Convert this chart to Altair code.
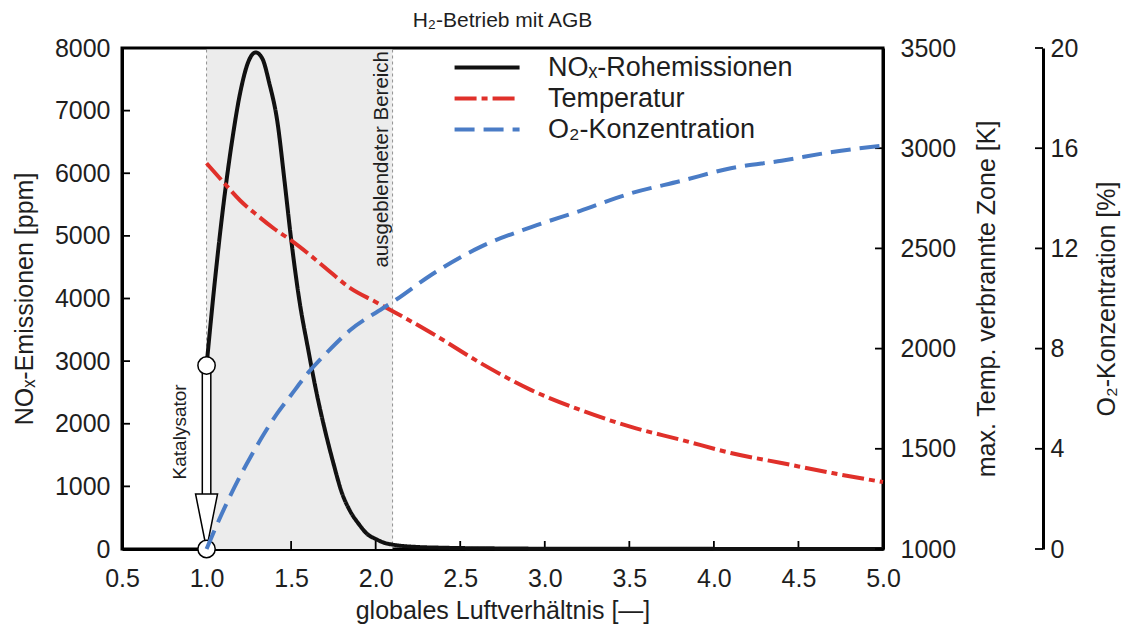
import altair as alt
import pandas as pd

# ---------------- data ----------------
lam_nox = [1.0, 1.05, 1.1, 1.15, 1.2, 1.25, 1.29, 1.33, 1.37, 1.42, 1.46, 1.5,
           1.55, 1.6, 1.65, 1.7, 1.75, 1.8, 1.85, 1.9, 1.95, 2.0, 2.05, 2.1,
           2.2, 2.4, 2.7, 3.0, 4.0, 5.0]
nox = [2930, 4300, 5500, 6500, 7300, 7800, 7930, 7830, 7450, 6800, 5900, 4950,
       3950, 3200, 2500, 1900, 1370, 900, 600, 400, 240, 160, 100, 70,
       40, 20, 10, 5, 2, 0]

lam_temp = [1.0, 1.1, 1.2, 1.3, 1.4, 1.5, 1.6, 1.7, 1.85, 2.0, 2.12, 2.33,
            2.62, 2.92, 3.21, 3.51, 3.81, 4.1, 4.4, 4.7, 5.0]
temp = [2925, 2830, 2738, 2665, 2598, 2540, 2475, 2405, 2302, 2233, 2178, 2078,
        1928, 1793, 1694, 1609, 1544, 1479, 1429, 1379, 1334]

lam_o2 = [1.0, 1.06, 1.12, 1.19, 1.26, 1.34, 1.42, 1.5, 1.6, 1.72, 1.85, 2.04,
          2.12, 2.33, 2.62, 2.92, 3.21, 3.51, 3.81, 4.1, 4.4, 4.7, 5.0]
o2 = [0.0, 0.95, 1.84, 2.8, 3.67, 4.6, 5.43, 6.15, 7.03, 7.9, 8.74, 9.6,
      9.95, 10.95, 12.06, 12.85, 13.5, 14.2, 14.7, 15.2, 15.5, 15.85, 16.1]

series_names = ["NOₓ-Rohemissionen", "Temperatur", "O₂-Konzentration"]
series_colors = ["#111111", "#e0302a", "#4a7cc6"]
series_dashes = [[1, 0], [22, 5, 6, 5], [20, 9]]

x_ticks = [0.5, 1.0, 1.5, 2.0, 2.5, 3.0, 3.5, 4.0, 4.5, 5.0]
nox_ticks = [0, 1000, 2000, 3000, 4000, 5000, 6000, 7000, 8000]
temp_ticks = [1000, 1500, 2000, 2500, 3000, 3500]
o2_ticks = [0, 4, 8, 12, 16, 20]

hidden_range = [1.0, 2.1]          # "ausgeblendeter Bereich"
cat_lam = [1.0, 1.0]               # Katalysator arrow: start / end
cat_nox = [2930, 0]
cat_shaft_end = 700
annot_lam = [2.1, 1.0]
annot_nox = [8000, 1870]
annot_text = ["ausgeblendeter Bereich", "Katalysator"]

# ---------------- style ----------------
W, H = 761, 501
O2_OFFSET = 160
FONT = "Liberation Sans"
TXT = "#1e1e1e"
TICK = 8
FS = 25

df_nox = pd.DataFrame({"lam": lam_nox, "value": nox, "series": series_names[0]})
df_temp = pd.DataFrame({"lam": lam_temp, "value": temp, "series": series_names[1]})
df_o2 = pd.DataFrame({"lam": lam_o2, "value": o2, "series": series_names[2]})

xscale = alt.Scale(domain=[0.5, 5.0], nice=False, zero=False)
color_enc = alt.Color("series:N", scale=alt.Scale(domain=series_names, range=series_colors), legend=alt.Legend(title=None))
dash_enc = alt.StrokeDash("series:N", scale=alt.Scale(domain=series_names, range=series_dashes), legend=alt.Legend(title=None))

x_axis = alt.Axis(title="globales Luftverhältnis [—]", values=x_ticks, format=".1f",
                  labelPadding=17, titlePadding=7)

s_nox = alt.Scale(domain=[0, 8000], nice=False, zero=False)
s_temp = alt.Scale(domain=[1000, 3500], nice=False, zero=False)
s_o2 = alt.Scale(domain=[0, 20], nice=False, zero=False)

ax_nox = alt.Axis(title="NOₓ-Emissionen [ppm]", values=nox_ticks, format="d", orient="left",
                  labelPadding=12, titlePadding=17)
ax_temp = alt.Axis(title="max. Temp. verbrannte Zone [K]", values=temp_ticks, format="d", orient="right",
                   labelPadding=17, titlePadding=19, titleAngle=270, titleBaseline="top")
ax_o2 = alt.Axis(title="O₂-Konzentration [%]", values=o2_ticks, format="d", orient="right",
                 offset=O2_OFFSET, labelPadding=7, titlePadding=17, titleAngle=270, titleBaseline="top")


def X(field):
    return alt.X(field, scale=xscale, axis=x_axis)


def Y(field, scale, axis):
    return alt.Y(field, scale=scale, axis=axis)


# ---------------- group 1: NOx scale ----------------
df_hidden = pd.DataFrame({"lam": [hidden_range[0]], "b": [hidden_range[1]]})
shade = alt.Chart(df_hidden).mark_rect(fill="#ececec").encode(
    x=X("lam:Q"), x2="b:Q", y=alt.value(1.5), y2=alt.value(H))
df_vl = pd.DataFrame({"lam": hidden_range})
vlines = alt.Chart(df_vl).mark_rule(stroke="#777777", strokeWidth=0.8, strokeDash=[3, 3]).encode(
    x=X("lam:Q"), y=alt.value(1.5), y2=alt.value(H))

df_xt = pd.DataFrame({"lam": x_ticks})
xticks = alt.Chart(df_xt).mark_rule(stroke="black", strokeWidth=1.8).encode(
    x=X("lam:Q"), y=alt.value(H), y2=alt.value(H - TICK))

df_yt = pd.DataFrame({"value": nox_ticks})
yticks_nox = alt.Chart(df_yt).mark_rule(stroke="black", strokeWidth=1.8).encode(
    y=Y("value:Q", s_nox, ax_nox), x=alt.value(0), x2=alt.value(TICK))

line_nox = alt.Chart(df_nox).mark_line(strokeWidth=4, interpolate="monotone").encode(
    x=X("lam:Q"), y=Y("value:Q", s_nox, ax_nox),
    color=color_enc, strokeDash=dash_enc)

df_shaft = pd.DataFrame({"lam": [cat_lam[0]], "value": [cat_nox[0]], "y2": [cat_shaft_end]})
shaft_o = alt.Chart(df_shaft).mark_rule(stroke="black", strokeWidth=10).encode(
    x=X("lam:Q"), y=Y("value:Q", s_nox, ax_nox), y2="y2:Q")
shaft_i = alt.Chart(df_shaft).mark_rule(stroke="white", strokeWidth=7).encode(
    x=X("lam:Q"), y=Y("value:Q", s_nox, ax_nox), y2="y2:Q")
df_head = pd.DataFrame({"lam": [cat_lam[1]], "value": [cat_nox[1]]})
head = alt.Chart(df_head).mark_point(shape="M-0.4,-2L0.4,-2L0,0Z", size=3025, filled=True,
                                     fill="white", stroke="black", strokeWidth=1.5, opacity=1).encode(
    x=X("lam:Q"), y=Y("value:Q", s_nox, ax_nox))
df_circ = pd.DataFrame({"lam": cat_lam, "value": cat_nox})
circles = alt.Chart(df_circ).mark_point(shape="circle", size=300, filled=True, fill="white",
                                        stroke="black", strokeWidth=1.5, opacity=1).encode(
    x=X("lam:Q"), y=Y("value:Q", s_nox, ax_nox))

df_ann = pd.DataFrame({"lam": annot_lam, "value": annot_nox, "label": annot_text})
ann1 = alt.Chart(df_ann.iloc[[0]]).mark_text(angle=270, align="right", baseline="bottom", dx=-3, dy=-1,
                                             fontSize=20.5, font=FONT, color=TXT).encode(
    x=X("lam:Q"), y=Y("value:Q", s_nox, ax_nox), text="label:N")
ann2 = alt.Chart(df_ann.iloc[[1]]).mark_text(angle=270, align="center", baseline="bottom", dy=-17,
                                             fontSize=19, font=FONT, color=TXT).encode(
    x=X("lam:Q"), y=Y("value:Q", s_nox, ax_nox), text="label:N")

g1 = alt.layer(shade, vlines, xticks, yticks_nox, line_nox, shaft_o, shaft_i, head, circles, ann1, ann2)

# ---------------- group 2: temperature scale ----------------
line_temp = alt.Chart(df_temp).mark_line(strokeWidth=4, interpolate="monotone").encode(
    x=X("lam:Q"), y=Y("value:Q", s_temp, ax_temp),
    color=color_enc, strokeDash=dash_enc)
df_tt = pd.DataFrame({"value": temp_ticks})
yticks_temp = alt.Chart(df_tt).mark_rule(stroke="black", strokeWidth=1.8).encode(
    y=Y("value:Q", s_temp, ax_temp), x=alt.value(W - TICK), x2=alt.value(W))
g2 = alt.layer(line_temp, yticks_temp)

# ---------------- group 3: O2 scale ----------------
line_o2 = alt.Chart(df_o2).mark_line(strokeWidth=4, interpolate="monotone").encode(
    x=X("lam:Q"), y=Y("value:Q", s_o2, ax_o2),
    color=color_enc, strokeDash=dash_enc)
df_ot = pd.DataFrame({"value": o2_ticks})
yticks_o2 = alt.Chart(df_ot).mark_rule(stroke="black", strokeWidth=1.8).encode(
    y=Y("value:Q", s_o2, ax_o2), x=alt.value(W + O2_OFFSET - TICK), x2=alt.value(W + O2_OFFSET))
g3 = alt.layer(line_o2, yticks_o2)

# legend line symbol: long horizontal stroke ending at the symbol's own column
LEGEND_SYMBOL = "M-7.5,0H0.5"

chart = alt.layer(g1, g2, g3).resolve_scale(y="independent").properties(
    width=W, height=H,
    autosize=alt.AutoSizeParams(type="none"),
    padding={"left": 122, "top": 48, "right": 1124 - 122 - W, "bottom": 629 - 48 - H},
    title=alt.TitleParams(text="H₂-Betrieb mit AGB", fontSize=21, fontWeight="normal", color=TXT,
                          font=FONT, anchor="middle", offset=5),
).configure_view(stroke="black", strokeWidth=3).configure_axis(
    labelFont=FONT, titleFont=FONT, labelFontSize=FS, titleFontSize=FS, titleFontWeight="normal",
    labelColor=TXT, titleColor=TXT, ticks=False, grid=False, domainColor="black", domainWidth=3,
    labelFlush=False, labelOverlap=False, zindex=1
).configure_legend(
    orient="none", legendX=380, legendY=6, symbolType=LEGEND_SYMBOL, symbolSize=264,
    symbolStrokeWidth=4, labelFont=FONT, labelFontSize=27, labelColor=TXT, labelOffset=19,
    rowPadding=3, labelLimit=400
)

chart.save("out.html", embed_options={"renderer": "svg", "actions": False})
